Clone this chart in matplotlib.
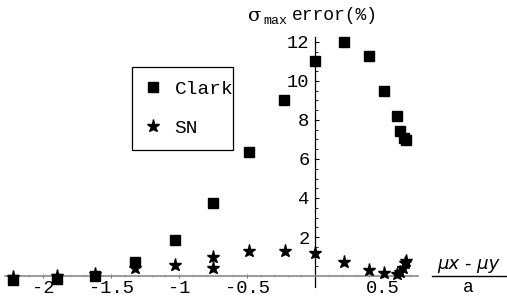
import matplotlib
matplotlib.use("Agg")
import matplotlib.pyplot as plt
from matplotlib.ticker import FixedLocator, FixedFormatter
from matplotlib.patches import Rectangle
from matplotlib.lines import Line2D

# ---- data ----
clark_x = [-2.22, -1.90, -1.62, -1.32, -1.03, -0.75, -0.485, -0.23, 0.0, 0.21, 0.40, 0.51, 0.60, 0.625, 0.655, 0.67]
clark_y = [-0.2, -0.15, 0.0, 0.72, 1.85, 3.75, 6.35, 9.0, 11.0, 12.0, 11.3, 9.5, 8.2, 7.45, 7.1, 6.95]
sn_x = [-2.22, -1.90, -1.62, -1.32, -1.03, -0.75, -0.75, -0.485, -0.22, 0.0, 0.21, 0.40, 0.51, 0.60, 0.625, 0.65, 0.66, 0.67]
sn_y = [-0.05, 0.0, 0.1, 0.4, 0.55, 1.0, 0.4, 1.3, 1.3, 1.2, 0.7, 0.3, 0.15, 0.08, 0.2, 0.4, 0.65, 0.75]
xtick_vals = [-2, -1.5, -1, -0.5, 0.5]
xtick_labels = ["-2", "-1.5", "-1", "-0.5", "0.5"]
ytick_vals = [2, 4, 6, 8, 10, 12]
ytick_labels = ["2", "4", "6", "8", "10", "12"]
series_names = ["Clark", "SN"]

W, H = 507, 297
fig = plt.figure(figsize=(W / 100, H / 100), dpi=100)
ax = fig.add_axes([0, 0, 1, 1])
ax.patch.set_alpha(0)

# pixel mapping: x_px = 315 + 136*x ; y_px = 276 - 19.5*y
ax.set_xlim(-315 / 136, (W - 315) / 136)
ax.set_ylim(-(H - 276) / 19.5, 276 / 19.5)

mono = "Liberation Mono"

ax.plot(clark_x, clark_y, ls="none", marker="s", ms=7.8, color="black", label=series_names[0], zorder=3)
ax.plot(sn_x, sn_y, ls="none", marker="*", ms=9.5, color="black", label=series_names[1], zorder=3)

for s in ["top", "right"]:
    ax.spines[s].set_visible(False)
ax.spines["left"].set_position(("data", 0))
ax.spines["bottom"].set_position(("data", 0))
ax.spines["left"].set_bounds(-0.56, 12.26)
ax.spines["bottom"].set_bounds(-2.28, 0.757)
ax.spines["bottom"].set_color("#8a8a8a")
ax.spines["left"].set_color("black")
ax.spines["left"].set_linewidth(0.9)
ax.spines["bottom"].set_linewidth(1.2)

ax.xaxis.set_major_locator(FixedLocator(xtick_vals))
ax.xaxis.set_major_formatter(FixedFormatter(xtick_labels))
ax.xaxis.set_minor_locator(FixedLocator([v / 10 for v in range(-22, 8) if v % 5 != 0]))
ax.yaxis.set_major_locator(FixedLocator(ytick_vals))
ax.yaxis.set_major_formatter(FixedFormatter(ytick_labels))
ax.yaxis.set_minor_locator(FixedLocator([v / 2 for v in range(1, 25) if v % 4 != 0]))

ax.tick_params(axis="x", which="major", direction="inout", length=3.5, width=0.8, color="#777777",
               pad=1, labelsize=13.5, labelcolor="black")
ax.tick_params(axis="x", which="minor", direction="inout", length=2, width=0.6, color="#999999")
ax.tick_params(axis="y", which="major", direction="in", length=3, width=0.8, color="black",
               pad=4, labelsize=13.5)
ax.tick_params(axis="y", which="minor", direction="in", length=1.8, width=0.6, color="black")
for lab in ax.get_xticklabels() + ax.get_yticklabels():
    lab.set_fontfamily(mono)

def fx(px):
    return px / W

def fy(py):
    return 1 - py / H

# title of y axis
fig.text(fx(255), fy(16), "σ", fontsize=14, family="DejaVu Serif", ha="center", va="center")
fig.text(fx(263), fy(21), "max", fontsize=9.5, family=mono, ha="left", va="center")
fig.text(fx(292), fy(15), "error(%)", fontsize=13, family=mono, ha="left", va="center")

# x axis label as a fraction
fig.text(fx(468), fy(264), "μx - μy", fontsize=13, family="DejaVu Sans", ha="center", va="center",
         style="italic")
fig.add_artist(Line2D([fx(432), fx(506)], [fy(276), fy(276)], color="black", lw=1.0,
                      transform=fig.transFigure))
fig.text(fx(468), fy(287), "a", fontsize=13, family=mono, ha="center", va="center")

# legend
fig.add_artist(Rectangle((fx(132), fy(150)), fx(233) - fx(132), fy(67) - fy(150),
                         transform=fig.transFigure, fill=False, edgecolor="black", lw=0.9))
leg = ax.legend(loc="upper left", bbox_to_anchor=(fx(143), fy(80)), bbox_transform=fig.transFigure,
                frameon=False, prop={"family": mono, "size": 14}, borderpad=0, borderaxespad=0,
                handlelength=1.0, handletextpad=0.63, labelspacing=1.1, numpoints=1)

fig.savefig("out.png", dpi=100)
